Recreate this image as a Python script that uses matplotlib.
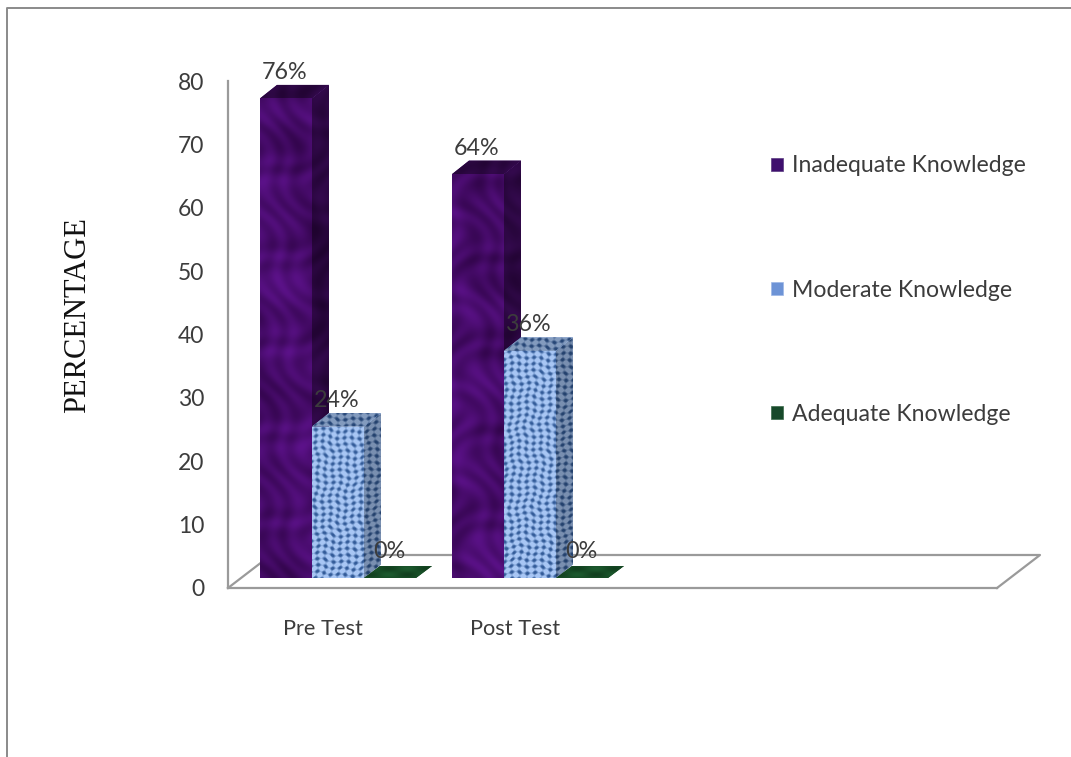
import matplotlib
matplotlib.use("Agg")
import matplotlib.pyplot as plt
import numpy as np
from matplotlib.lines import Line2D
from matplotlib.patches import Patch, Polygon

groups = ["Pre Test", "Post Test"]
series = ["Inadequate Knowledge", "Moderate Knowledge", "Adequate Knowledge"]
inadequate = [76, 64]
moderate = [24, 36]
adequate = [0, 0]
yticks = [0, 10, 20, 30, 40, 50, 60, 70, 80]

W, H = 1071, 757
fig = plt.figure(figsize=(W / 100, H / 100), dpi=100, facecolor="white")

# axes box is the front edge of the chart floor
L, R, T, B = 228, 997, 81, 588
ax = fig.add_axes([L / W, 1 - B / H, (R - L) / W, (B - T) / H])
ax.set_facecolor("none")
x_px = 192.0  # pixels per group
y_px = (B - T) / 80.0
xlim = ((L - 323) / x_px, (R - 323) / x_px)
ax.set_xlim(xlim)
ax.set_ylim(0, 80)

font = "Lato"
text_col = "#3c3c3c"
line_col = "#9a9a9a"

for s in ["top", "right"]:
    ax.spines[s].set_visible(False)
for s in ["left", "bottom"]:
    ax.spines[s].set_color(line_col)
    ax.spines[s].set_linewidth(1.6)
ax.set_yticks(yticks)
ax.set_xticks(range(len(groups)))
ax.set_xticklabels(groups)
ax.tick_params(axis="y", length=0, pad=17, labelsize=16.5, labelcolor=text_col)
ax.tick_params(axis="x", length=0, pad=22, labelsize=15.7, labelcolor=text_col)
for t in ax.get_xticklabels() + ax.get_yticklabels():
    t.set_fontfamily(font)

# floor in back
fx = 43 / x_px
fy = 33 / y_px
ax.plot([xlim[0], xlim[0] + fx, xlim[1] + fx, xlim[1]], [0, fy, fy, 0],
        color=line_col, lw=1.6, clip_on=False, zorder=1)

# textures, cover the whole axes and get clipped to each face
ny, nx = B - T, R - L
gx, gy = np.meshgrid(np.arange(nx), np.arange(ny))


def purple_tex():
    m = (np.sin(gx / 6.3 + np.sin(gy / 14.0) * 3) * np.sin(gy / 8.7 + np.sin(gx / 17.0) * 3)
         + 0.7 * np.sin((gx + gy) / 31.0) * np.cos((gx - gy) / 23.0))
    m = (m + 1.7) / 3.4
    return np.dstack([0.20 + 0.16 * m, 0.02 + 0.05 * m, 0.30 + 0.24 * m])


def blue_tex():
    # dark knots on a light weave, wobbled so the rows do not line up too neatly
    wx = gx + 1.6 * np.sin(gy / 13.0) + 1.1 * np.sin(gy / 4.3 + gx / 19.0)
    wy = gy + 1.6 * np.sin(gx / 11.0) + 1.1 * np.sin(gx / 3.9 + gy / 17.0)
    m = 0.55 * np.sin(2 * np.pi * wx / 7.5) + 0.55 * np.sin(2 * np.pi * wy / 6.5)
    m = np.clip(m * 0.9 + 0.8, 0, 1)
    return np.dstack([0.20 + 0.46 * m, 0.36 + 0.42 * m, 0.60 + 0.36 * m])


def green_tex():
    m = 0.5 + 0.5 * np.sin(gx / 6.0) * np.sin(gy / 2.0)
    return np.dstack([0.07 + 0.04 * m, 0.25 + 0.10 * m, 0.12 + 0.06 * m])


def textured(patch, tex, shade, z):
    patch.set_zorder(z)
    im = ax.imshow(np.clip(tex * shade, 0, 1), extent=(xlim[0], xlim[1], 0, 80), origin="upper",
                   aspect="auto", interpolation="bilinear", zorder=z + 0.1)
    im.set_clip_path(patch)


purple = purple_tex()
blue = blue_tex()
green = green_tex()

# bar geometry, front base sits above the axes line because of the depth
bar_w = 52 / x_px
left0 = (260 - 323) / x_px
base = (B - 578) / y_px
scale = 6.31 / y_px
dx = 17 / x_px
dy = 13.5 / y_px
flat_dx = 16 / x_px
flat_dy = 12 / y_px

values = [inadequate, moderate, adequate]
textures = [purple, blue, green]
edge = ["#3d0a66", "#8fb0e6", "#123f1c"]
side_shade = [0.6, 0.72, 1.0]
lid_shade = [0.62, 0.78, 1.0]

z = 3
for g in range(len(groups)):
    for i in range(3):
        v = values[i][g]
        x0 = g + left0 + i * bar_w
        x1 = x0 + bar_w
        top = base + v * scale
        tex = textures[i]
        if v > 0:
            side = Polygon([(x1, base), (x1 + dx, base + dy), (x1 + dx, top + dy), (x1, top)],
                           closed=True, fc=edge[i], ec="none")
            ax.add_patch(side)
            textured(side, tex, side_shade[i], z)
            lid = Polygon([(x0, top), (x0 + dx, top + dy), (x1 + dx, top + dy), (x1, top)],
                          closed=True, fc=edge[i], ec="none")
            ax.add_patch(lid)
            textured(lid, tex, lid_shade[i], z + 1)
            front = ax.bar(x0, v * scale, bar_w, bottom=base, align="edge", color=edge[i], lw=0)[0]
            textured(front, tex, 1.0, z + 2)
        else:
            flat = Polygon([(x0, base), (x0 + flat_dx, base + flat_dy),
                            (x1 + flat_dx, base + flat_dy), (x1, base)],
                           closed=True, fc=edge[i], ec="none")
            ax.add_patch(flat)
            textured(flat, tex, 1.0, z)
        z += 3
        ax.annotate("%d%%" % v, (x0, top), xytext=(25, 26), textcoords="offset pixels",
                    ha="center", va="center", fontsize=16.8, family=font, color=text_col,
                    zorder=50, annotation_clip=False)

ax.set_xlim(xlim)
ax.set_ylim(0, 80)

handles = [Patch(fc="#3f0f6e", ec="#5a3a80", lw=0.5),
           Patch(fc="#6d93d6", ec="#9db8e6", lw=0.5),
           Patch(fc="#17492a", ec="#3a6a4a", lw=0.5)]
ax.legend(handles, series, loc="center left", bbox_to_anchor=(771 / W, 1 - 290 / H),
          bbox_transform=fig.transFigure, frameon=False, borderpad=0, borderaxespad=0,
          handlelength=0.52, handleheight=0.52, handletextpad=0.37, labelspacing=4.47,
          labelcolor=text_col, prop={"family": font, "size": 16.6})

fig.text(78 / W, 1 - 315 / H, "PERCENTAGE", rotation=90, ha="center", va="center",
         family="Liberation Serif", fontsize=22, color="#111111")

# outer frame of the pasted picture
fig.add_artist(Line2D([7 / W, 7 / W, 1.0], [0, 1 - 8 / H, 1 - 8 / H], color="#8a8a8a", lw=1.4))

fig.savefig("out.png", dpi=100)
